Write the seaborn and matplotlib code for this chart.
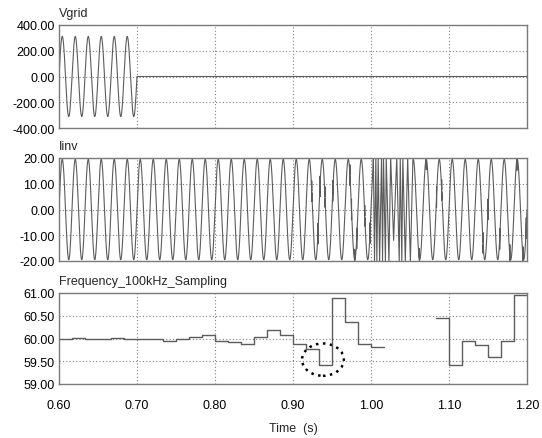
import numpy as np
import pandas as pd
import matplotlib
matplotlib.use("Agg")
import matplotlib.pyplot as plt
import seaborn as sns
from matplotlib.patches import Ellipse
from matplotlib.ticker import FormatStrFormatter

# ---------------- data ----------------
t_start, t_end = 0.60, 1.20
grid_freq_hz = 60.0
vgrid_amplitude = 311.0
vgrid_off_time = 0.70

iinv_amplitude = 19.5
iinv_glitch_window = (1.0025, 1.0535)
iinv_glitch_times = [1.0030, 1.0045, 1.0062, 1.0075, 1.0092, 1.0110, 1.0135,
                     1.0148, 1.0160, 1.0185, 1.0195, 1.0230, 1.0252, 1.0290,
                     1.0330, 1.0362, 1.0375, 1.0395, 1.0408, 1.0440, 1.0470,
                     1.0505]
iinv_glitch_levels = [20.5, -20.5, 20.5, -20.5, 20.5, -20.5, 20.5,
                      -20.5, 20.5, -20.5, 20.5, -20.5, 20.5, -12.0,
                      20.5, -20.5, 20.5, -20.5, 20.5, -20.5, 20.5,
                      -20.5]
iinv_notch_times = [0.924, 0.932, 0.9346, 0.941, 0.951, 0.973, 0.975, 0.979,
                    0.9817, 0.992, 0.9987, 1.062, 1.071, 1.084, 1.0906,
                    1.1436, 1.150, 1.165, 1.178, 1.187, 1.195, 1.199]
iinv_notch_size = 4.0

freq_step = 1.0 / 60.0
freq_a_start = 0.60
freq_values_a = [60.00, 60.02, 60.00, 60.00, 60.02, 60.00, 60.00, 60.00,
                 59.95, 60.00, 60.03, 60.07, 59.95, 59.92, 59.89, 60.03,
                 60.19, 60.07, 59.89, 59.77, 59.42, 60.88, 60.36, 59.89,
                 59.82]
freq_b_start = 1.0 + 5.0 / 60.0
freq_values_b = [60.44, 59.42, 59.95, 59.85, 59.60, 59.95, 60.96]

circle_center = (0.9384, 59.535)
circle_size = (0.0536, 0.71)

x_ticks = [0.60, 0.70, 0.80, 0.90, 1.00, 1.10, 1.20]
vgrid_ticks = [-400, -200, 0, 200, 400]
iinv_ticks = [-20, -10, 0, 10, 20]
freq_ticks = [59.0, 59.5, 60.0, 60.5, 61.0]
titles = ["Vgrid", "Iinv", "Frequency_100kHz_Sampling"]
x_label = "Time  (s)"

# ---------------- series construction ----------------
t = np.linspace(t_start, t_end, 12001)
phase = 2 * np.pi * grid_freq_hz * (t - t_start)
vgrid = np.where(t <= vgrid_off_time, vgrid_amplitude * np.sin(phase), 0.0)
df_v = pd.DataFrame({"t": t, "v": vgrid})

base_i = iinv_amplitude * np.sin(phase)
keep = (t < iinv_glitch_window[0]) | (t > iinv_glitch_window[1])
ti = list(t[keep])
vi = list(base_i[keep])
ti += list(iinv_glitch_times)
vi += list(iinv_glitch_levels)
def base_at(x):
    return iinv_amplitude * np.sin(2 * np.pi * grid_freq_hz * (x - t_start))
for tn in iinv_notch_times:
    b = base_at(tn)
    for k, dv in enumerate([0.0, iinv_notch_size, -iinv_notch_size, 0.0]):
        ti.append(tn + 1e-5 * (k + 0.5))
        vi.append(b + dv)
df_i = pd.DataFrame({"t": ti, "v": vi}).sort_values("t", kind="mergesort")

def step_frame(start, values):
    xs = [start + k * freq_step for k in range(len(values))]
    xs.append(start + len(values) * freq_step)
    ys = list(values) + [values[-1]]
    return pd.DataFrame({"t": xs, "f": ys})
df_fa = step_frame(freq_a_start, freq_values_a)
df_fb = step_frame(freq_b_start, freq_values_b)

# ---------------- plotting ----------------
sns.set_style("white")
plt.rcParams["font.family"] = ["Liberation Sans", "DejaVu Sans"]
plt.rcParams["font.size"] = 9

fig = plt.figure(figsize=(5.42, 4.39), dpi=100)
W, H = 542.0, 439.0
def rect(top, bottom, left=59, right=527):
    return [left / W, (H - bottom) / H, (right - left) / W, (bottom - top) / H]
ax1 = fig.add_axes(rect(26, 129))
ax2 = fig.add_axes(rect(159, 262))
ax3 = fig.add_axes(rect(294, 385))

line_col = "#5c5c5c"
frame_col = "#7a7a7a"
grid_col = "#808080"

sns.lineplot(data=df_v, x="t", y="v", ax=ax1, color=line_col, linewidth=0.8,
             estimator=None, sort=False)
sns.lineplot(data=df_i, x="t", y="v", ax=ax2, color=line_col, linewidth=0.8,
             estimator=None, sort=False)
for d in (df_fa, df_fb):
    sns.lineplot(data=d, x="t", y="f", ax=ax3, color=line_col, linewidth=1.0,
                 estimator=None, sort=False, drawstyle="steps-post")

ax3.add_patch(Ellipse(circle_center, circle_size[0], circle_size[1],
                      fill=False, edgecolor="black", linewidth=1.8,
                      linestyle=(0, (1, 1.8))))

for ax, ticks, title in zip((ax1, ax2, ax3),
                            (vgrid_ticks, iinv_ticks, freq_ticks), titles):
    ax.set_xlim(t_start, t_end)
    ax.set_ylim(ticks[0], ticks[-1])
    ax.set_xticks(x_ticks)
    ax.set_yticks(ticks)
    ax.yaxis.set_major_formatter(FormatStrFormatter("%.2f"))
    ax.xaxis.set_major_formatter(FormatStrFormatter("%.2f"))
    ax.set_xlabel("")
    ax.set_ylabel("")
    ax.grid(True, color=grid_col, linestyle=(0, (1, 2)), linewidth=0.8)
    ax.set_axisbelow(True)
    for s in ax.spines.values():
        s.set_color(frame_col)
        s.set_linewidth(1.0)
        s.set_visible(True)
    ax.tick_params(axis="both", length=0, pad=3, labelsize=9, colors="black")
    ax.annotate(title, xy=(0, 1), xycoords="axes fraction", xytext=(0, 4.5),
                textcoords="offset points", ha="left", va="bottom",
                fontsize=9)
    if ax is not ax3:
        ax.tick_params(axis="x", labelbottom=False)

ax3.tick_params(axis="x", pad=11)
ax3.set_xlabel(x_label, fontsize=9, labelpad=8)

fig.savefig("out.png", dpi=100, facecolor="white")
